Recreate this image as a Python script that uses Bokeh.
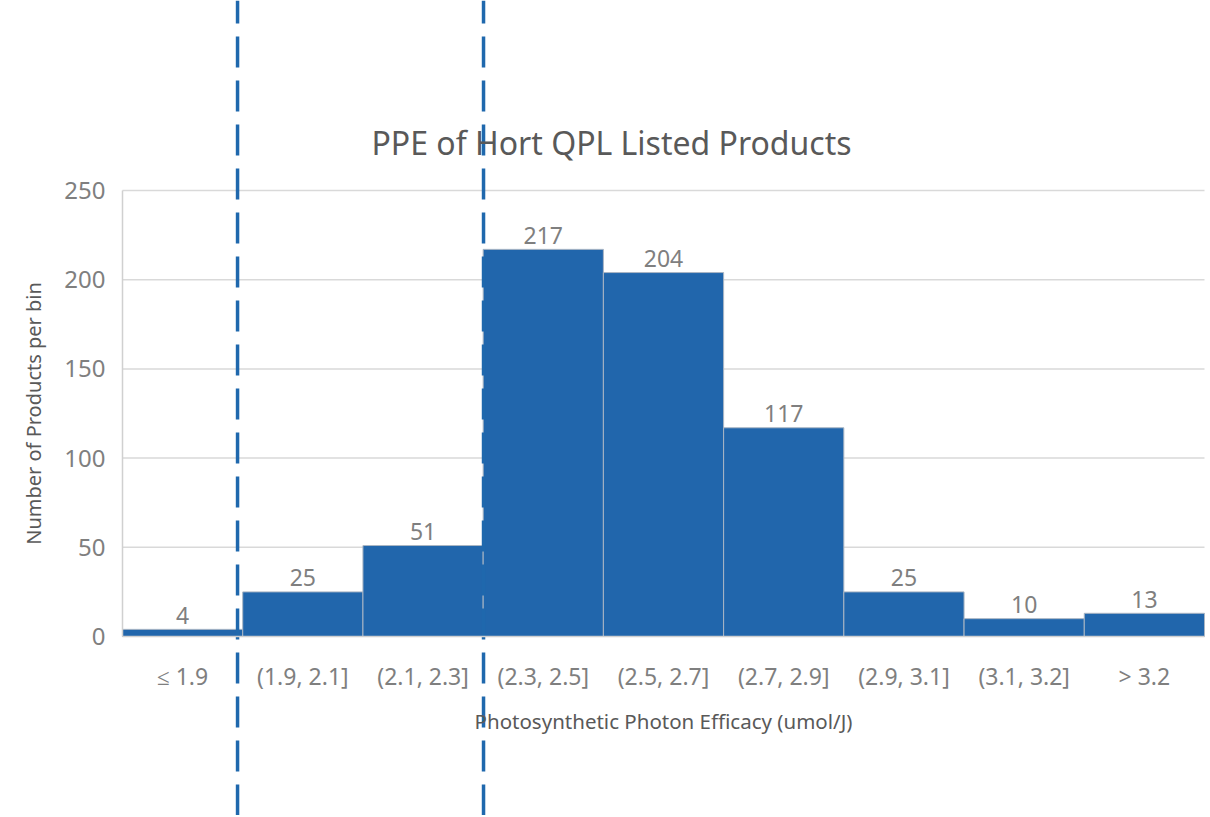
from bokeh.plotting import figure
from bokeh.models import ColumnDataSource, LinearAxis, FixedTicker, Label, Range1d
from bokeh.core.properties import value
from bokeh.embed import file_html
from bokeh.resources import INLINE
import numpy as np

categories = ["≤ 1.9", "(1.9, 2.1]", "(2.1, 2.3]", "(2.3, 2.5]", "(2.5, 2.7]",
              "(2.7, 2.9]", "(2.9, 3.1]", "(3.1, 3.2]", "> 3.2"]
counts = [4, 25, 51, 217, 204, 117, 25, 10, 13]
y_ticks = [0, 50, 100, 150, 200, 250]
marker_lines = [0.957, 3.003]  # dashed threshold lines (bin-edge units)

FONT = "Noto Sans"
W, H = 1208, 815
# plot area in screen px: x 122..1204 -> 0..9 ; y 636..190 -> 0..250
px_per_x = (1204 - 122) / 9.0
px_per_y = (636 - 190) / 250.0
x0 = (0 - 122) / px_per_x
x1 = (W - 122) / px_per_x
y1 = 636 / px_per_y
y0 = (636 - H) / px_per_y

p = figure(width=W, height=H, output_backend="svg", toolbar_location=None,
           x_axis_location=None, y_axis_location=None,
           x_range=Range1d(x0, x1), y_range=Range1d(y0, y1),
           min_border=0, outline_line_color=None)
p.xgrid.visible = False
p.ygrid.visible = False

n = len(categories)
xc = np.arange(n) + 0.5
src = ColumnDataSource(dict(x=xc, top=counts, lbl=[str(c) for c in counts]))

# gridlines (limited to plot area)
p.segment(x0=[0] * len(y_ticks[1:]), x1=[n] * len(y_ticks[1:]), y0=y_ticks[1:], y1=y_ticks[1:],
          line_color="#d9d9d9", line_width=1.5)

p.vbar(x="x", top="top", width=1.0, bottom=0, source=src,
       fill_color="#2166ac", line_color="#aab6c4", line_width=1)

p.text(x="x", y="top", text="lbl", source=src, text_align="center",
       text_baseline="alphabetic", y_offset=-14,
       text_font=value(FONT), text_font_size="23px", text_color="#7f7f7f")

# axes
yaxis = LinearAxis(fixed_location=0, bounds=(0, 250), ticker=FixedTicker(ticks=y_ticks),
                   axis_line_color="#d0d0d0", axis_line_width=1.5,
                   major_tick_line_color=None, minor_tick_line_color=None,
                   major_label_text_font=FONT, major_label_text_font_size="24px",
                   major_label_text_color="#7f7f7f", major_label_standoff=11,
                   axis_label="Number of Products per bin",
                   axis_label_text_font=FONT, axis_label_text_font_size="20px",
                   axis_label_text_font_style="normal", axis_label_text_color="#595959",
                   axis_label_standoff=14)
p.add_layout(yaxis, "left")

xaxis = LinearAxis(fixed_location=0, bounds=(0, n), ticker=FixedTicker(ticks=list(xc)),
                   major_label_overrides={float(x): c for x, c in zip(xc, categories)},
                   axis_line_color="#d0d0d0", axis_line_width=1.5,
                   major_tick_line_color=None, minor_tick_line_color=None,
                   major_label_text_font=FONT, major_label_text_font_size="23px",
                   major_label_text_color="#7f7f7f", major_label_standoff=17,
                   axis_label="Photosynthetic Photon Efficacy (umol/J)",
                   axis_label_text_font=FONT, axis_label_text_font_size="20.5px",
                   axis_label_text_font_style="normal", axis_label_text_color="#595959",
                   axis_label_standoff=12)
p.add_layout(xaxis, "below")

# dashed threshold lines
for xv in marker_lines:
    p.line(x=[xv, xv], y=[y0, y1], line_color="#1f68ad", line_width=3.5, line_dash="31 13")

p.add_layout(Label(x=611, y=H - 142, x_units="screen", y_units="screen",
                   text="PPE of Hort QPL Listed Products", text_align="center",
                   text_baseline="alphabetic", text_font=FONT, text_font_size="32px",
                   text_color="#595959"))

open("out.html", "w").write(file_html(p, INLINE))
